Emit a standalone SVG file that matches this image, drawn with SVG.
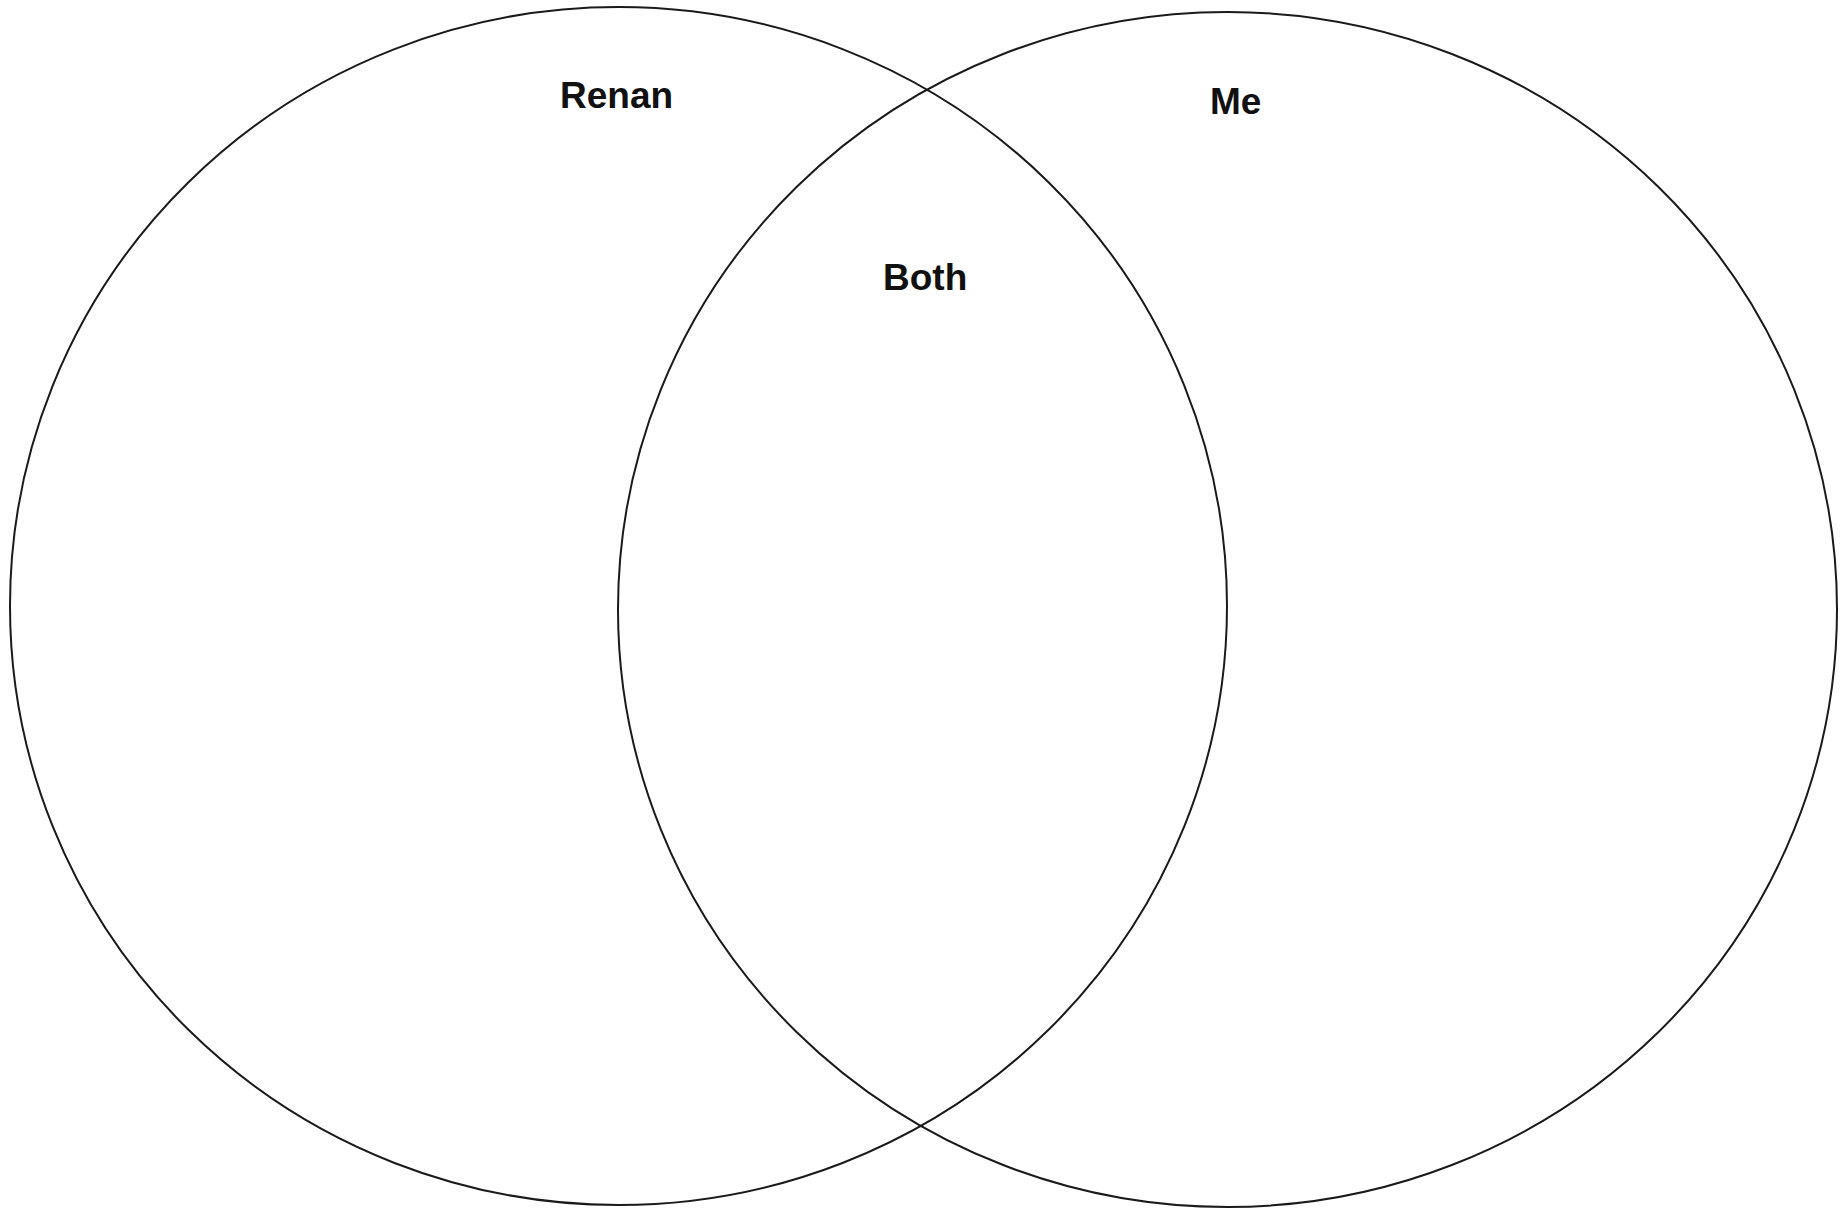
<svg xmlns="http://www.w3.org/2000/svg" width="1845" height="1208" viewBox="0 0 1845 1208">
<style>
.c{fill:none;stroke:#1a1a1a;stroke-width:2}
.t{font-family:"Liberation Sans",Arial,sans-serif;font-weight:bold;font-size:37px;fill:#111}
</style>
<rect width="1845" height="1208" fill="#fff"/>
<g id="renan">
<ellipse class="c" cx="618.5" cy="606" rx="608.5" ry="599"/>
<text class="t" x="560" y="108">Renan</text>
</g>
<g id="me">
<ellipse class="c" cx="1227.5" cy="609.5" rx="609.5" ry="597.5"/>
<text class="t" x="1210" y="114">Me</text>
</g>
<g id="both">
<text class="t" x="883" y="290">Both</text>
</g>
<g id="connectors"></g>
</svg>
